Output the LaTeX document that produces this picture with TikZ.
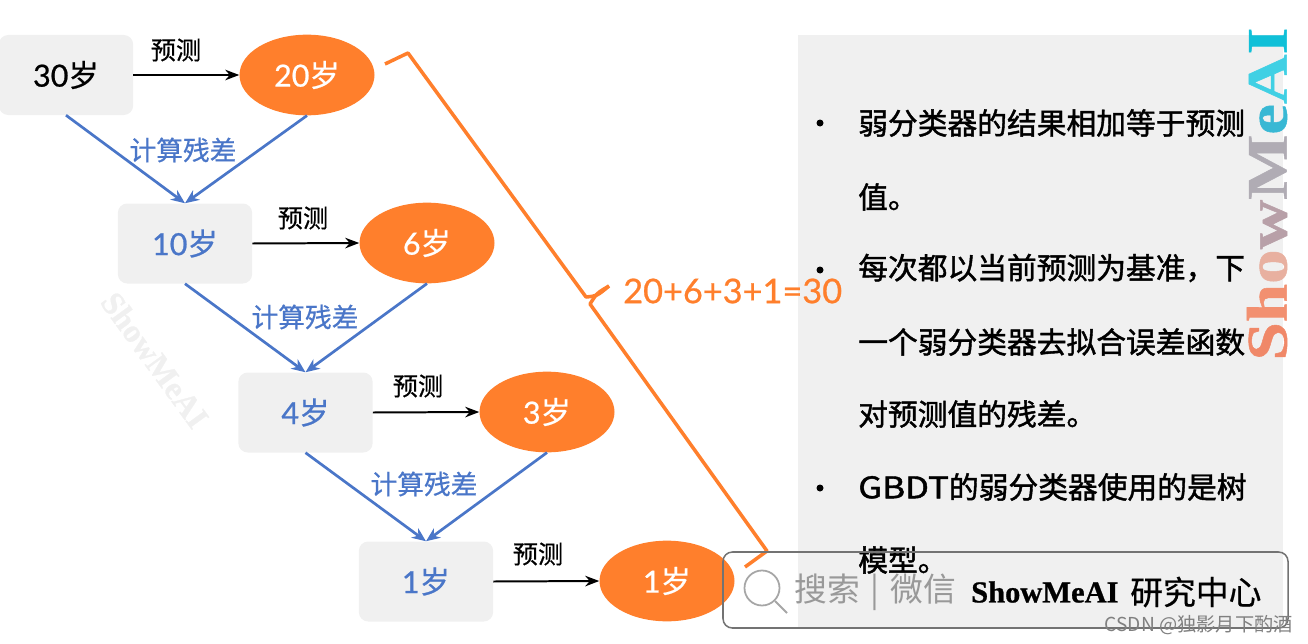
\documentclass[tikz,border=0pt]{standalone}
\usepackage{fontspec}
\usepackage{graphicx}
\setmainfont[FakeBold=0.7]{Lato}
\newfontfamily\cjk{Noto Sans CJK SC}
\newfontfamily\cjkm[FakeBold=1.4]{Noto Sans CJK SC}
\newfontfamily\cjkn[FakeBold=0.6]{Noto Sans CJK SC}
\newfontfamily\srf{Liberation Serif}
\newfontfamily\srfb[FakeBold=0.8]{Liberation Serif Bold}
\definecolor{orangeC}{HTML}{FF7F2C}
\definecolor{blueC}{HTML}{4A76C8}
\definecolor{panelC}{HTML}{F0F0F0}
\newcommand{\sui}{{\cjkn 岁}}
\usetikzlibrary{shapes.geometric,arrows.meta}
\tikzset{
  x=0.03cm,y=-0.03cm,
  agebox/.style={rectangle,rounded corners=8pt,fill=panelC,minimum width=4.03cm,minimum height=2.4cm,inner sep=0pt,font=\fontsize{26}{30}\selectfont},
  ageell/.style={ellipse,fill=orangeC,text=white,minimum width=4.05cm,minimum height=2.42cm,inner sep=0pt,font=\fontsize{26}{30}\selectfont},
  predarrow/.style={draw=black,line width=1.7pt,-{Stealth[length=12pt,width=9pt]}},
  resline/.style={draw=blueC,line width=2.3pt,-{Stealth[length=12pt,width=10pt]}},
  predlabel/.style={font=\cjkn\fontsize{21.5}{24}\selectfont,inner sep=0pt},
  reslabel/.style={font=\cjkn\fontsize{22.8}{26}\selectfont,text=blueC,inner sep=0pt},
  bodyline/.style={anchor=west,inner sep=0pt,font=\cjkm\fontsize{25.4}{30}\selectfont},
  bulletdot/.style={circle,fill=black,minimum size=0.21cm,inner sep=0pt},
  bracketline/.style={draw=orangeC,line width=3pt,line join=round},
}
\begin{document}
\begin{tikzpicture}
\useasboundingbox (0,0) rectangle (1308,644);
% panel
\fill[panelC] (798,35) rectangle (1283,628);
% faint watermark
\node[rotate=-54,text=panelC,inner sep=0pt,font=\srfb\fontsize{28}{30}\selectfont] (wm) at (155,360) {ShowMeAI};
% side logo
\node[rotate=90,inner sep=0pt,font=\srfb\fontsize{49}{60}\selectfont] (logo) at (1267,194) {\scalebox{1.2}[1]{\textcolor[HTML]{F08868}{S}\textcolor[HTML]{F29070}{h}\textcolor[HTML]{E8B0A0}{o}\textcolor[HTML]{B8A0A8}{w}\textcolor[HTML]{B0ACB4}{M}\textcolor[HTML]{38B8D4}{e}\textcolor[HTML]{40D0E4}{A}\textcolor[HTML]{10C0D8}{I}}};
% nodes
\node[agebox] (a1) at (66,75) {30\sui};
\node[agebox,text=blueC] (a2) at (185,243.5) {10\sui};
\node[agebox,text=blueC] (a3) at (305.5,412.5) {4\sui};
\node[agebox,text=blueC] (a4) at (426,581.5) {1\sui};
\node[ageell] (e1) at (307,75) {20\sui};
\node[ageell] (e2) at (427,243) {6\sui};
\node[ageell] (e3) at (547,412) {3\sui};
\node[ageell] (e4) at (667,581) {1\sui};
% predict arrows
\draw[predarrow] (a1.east) -- (e1.west);
\draw[predarrow] (a2.east) -- (e2.west);
\draw[predarrow] (a3.east) -- (e3.west);
\draw[predarrow] (a4.east) -- (e4.west);
\node[predlabel] (p1) at (176,50) {预测};
\node[predlabel] (p2) at (303,218) {预测};
\node[predlabel] (p3) at (418,386) {预测};
\node[predlabel] (p4) at (538,554) {预测};
% residual arrows
\draw[resline] (a1.south) -- (a2.north);
\draw[resline] (e1.south) -- (a2.north);
\draw[resline] (a2.south) -- (a3.north);
\draw[resline] (e2.south) -- (a3.north);
\draw[resline] (a3.south) -- (a4.north);
\draw[resline] (e3.south) -- (a4.north);
\node[reslabel] (r1) at (183,150) {计算残差};
\node[reslabel] (r2) at (305,317) {计算残差};
\node[reslabel] (r3) at (424,484) {计算残差};
% bracket
\coordinate (b0) at (385,64);
\coordinate (b1) at (408,53);
\coordinate (b2) at (586,297);
\coordinate (b3) at (609,286);
\coordinate (b4) at (590,304);
\coordinate (b5) at (767,551);
\coordinate (b6) at (745,567);
\draw[bracketline] (b0) -- (b1) -- (b2) .. controls (597,296) .. (b3);
\draw[bracketline] (b3) .. controls (597,293) .. (b4) -- (b5) -- (b6);
\node[anchor=west,inner sep=0pt,text=orangeC,font=\fontsize{29}{32}\selectfont] (sum) at (623,291) {\scalebox{1.01}[1]{20+6+3+1=30}};
% body
\node[bulletdot] (d1) at (820,123) {};
\node[bulletdot] (d2) at (820,270) {};
\node[bulletdot] (d3) at (820,488) {};
\node[bodyline] (t1) at (858,123) {弱分类器的结果相加等于预测};
\node[bodyline] (t2) at (858,197) {值。};
\node[bodyline] (t3) at (858,268) {每次都以当前预测为基准，下};
\node[bodyline] (t4) at (858,342) {一个弱分类器去拟合误差函数};
\node[bodyline] (t5) at (858,414) {对预测值的残差。};
\node[bodyline] (t6) at (858,487) {\scalebox{1.17}[1]{GBDT}的弱分类器使用的是树};
\node[bodyline] (t7) at (858,560) {模型。};
% search box
\draw[draw=black!55,line width=1.3pt,rounded corners=8pt] (723,552) rectangle (1288,628);
\node[circle,draw=black!35,line width=1.5pt,minimum size=1.05cm,inner sep=0pt] (lens) at (762,588) {};
\coordinate (hnd) at (787,613);
\draw[draw=black!35,line width=1.6pt] (lens.-45) -- (hnd);
\node[anchor=west,inner sep=0pt,text=black!40,font=\cjk\fontsize{28}{32}\selectfont] (sw) at (794,592) {搜索\,\,|\,\,微信};
\node[anchor=west,inner sep=0pt,font=\srfb\fontsize{26}{30}\selectfont] (sm) at (971,592) {ShowMeAI};
\node[anchor=west,inner sep=0pt,font=\cjkn\fontsize{28}{32}\selectfont] (yj) at (1130,592) {研究中心};
% csdn
\node[anchor=east,inner sep=0pt,text=black!50,font=\cjk\fontsize{16.4}{18}\selectfont] (csdn) at (1293,625) {CSDN @独影月下酌酒};
\end{tikzpicture}
\end{document}
